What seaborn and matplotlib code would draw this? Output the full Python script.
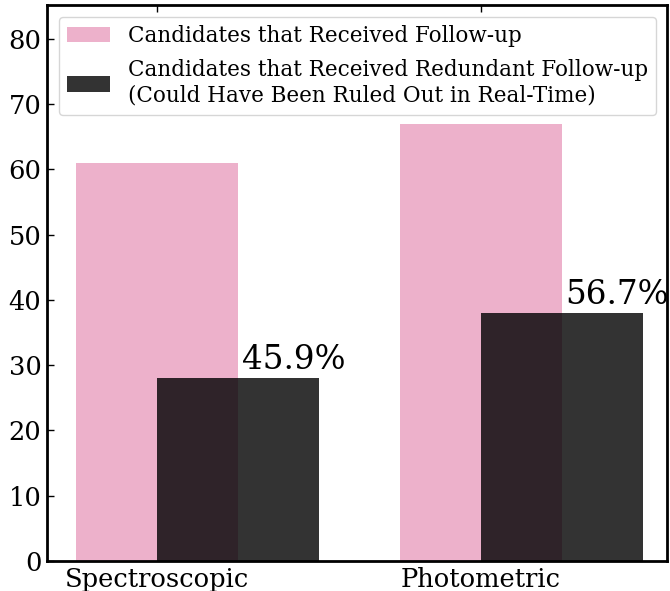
import matplotlib
matplotlib.use("Agg")
import matplotlib.pyplot as plt
import seaborn as sns
import numpy as np
import pandas as pd

categories = ["Spectroscopic", "Photometric"]
followup = [61, 67]
redundant = [28, 38]
percent_labels = ["45.9%", "56.7%"]

sns.set_style("white")
plt.rcParams["font.family"] = ["DejaVu Serif"]
plt.rcParams["mathtext.fontset"] = "dejavuserif"
plt.rcParams["text.color"] = "black"
plt.rcParams["xtick.color"] = "black"
plt.rcParams["ytick.color"] = "black"
plt.rcParams["axes.labelcolor"] = "black"

fig = plt.figure(figsize=(6.7, 5.91), dpi=100)
ax = fig.add_axes([0.0701, 0.0508, 0.9254, 0.9407])

w = 0.5
x = np.arange(len(categories), dtype=float)
df1 = pd.DataFrame({"x": x, "y": followup})
df2 = pd.DataFrame({"x": x + w / 2, "y": redundant})

sns.barplot(data=df1, x="x", y="y", native_scale=True, width=w,
            color="#EDB1CB", saturation=1, ax=ax,
            label="Candidates that Received Follow-up", linewidth=0)
sns.barplot(data=df2, x="x", y="y", native_scale=True, width=w,
            color="black", alpha=0.8, saturation=1, ax=ax,
            label="Candidates that Received Redundant Follow-up\n(Could Have Been Ruled Out in Real-Time)",
            linewidth=0)

for xi, v, t in zip(x, redundant, percent_labels):
    ax.text(xi + w / 2 + 0.012, v + 0.3, t, ha="left", va="bottom", fontsize=23.5, color="black")

ax.set_xticks(x)
ax.set_xticklabels(categories, fontsize=18.5)
ax.set_yticks(np.arange(0, 90, 10))
ax.tick_params(axis="y", labelsize=18.5)
ax.set_xlim(-0.34, 1.575)
ax.set_ylim(0, 85.2)
ax.set_xlabel("")
ax.set_ylabel("")
ax.tick_params(direction="in", length=5, width=1, top=True, bottom=True, left=True, right=False, pad=4)
for s in ax.spines.values():
    s.set_linewidth(2)
    s.set_color("black")

leg = ax.legend(loc="upper left", fontsize=15.5, frameon=True, fancybox=True,
                bbox_to_anchor=(0.0, 1.0), borderaxespad=0.55, labelspacing=0.55)
for t in leg.get_texts():
    t.set_color("black")

fig.savefig("out.png", dpi=100)
